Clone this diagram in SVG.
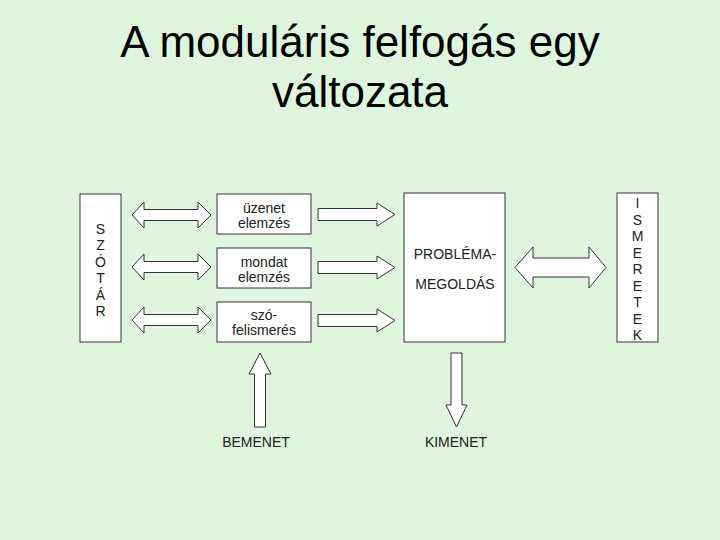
<svg xmlns="http://www.w3.org/2000/svg" width="720" height="540" viewBox="0 0 720 540">
<style>
.box{fill:#fff;stroke:#333;stroke-width:1}
.arr{fill:#fff;stroke:#333;stroke-width:1;stroke-linejoin:miter}
.t{font-family:"Liberation Sans",Arial,sans-serif;font-size:14px;fill:#222;text-anchor:middle}
.title{font-family:"Liberation Sans",Arial,sans-serif;font-size:44px;fill:#000;text-anchor:middle}
</style>
<rect width="720" height="540" fill="#ddf6dd"/>
<text class="title" x="360" y="57">A moduláris felfogás egy</text>
<text class="title" x="360" y="107">változata</text>

<g id="szotar">
<rect class="box" x="80" y="194" width="41" height="148"/>
<text class="t" x="100.5" y="234">S</text>
<text class="t" x="100.5" y="250">Z</text>
<text class="t" x="100.5" y="267">Ó</text>
<text class="t" x="100.5" y="283">T</text>
<text class="t" x="100.5" y="300">Á</text>
<text class="t" x="100.5" y="316">R</text>
</g>
<g id="uzenet">
<rect class="box" x="217" y="194" width="94" height="40"/>
<text class="t" x="264" y="213">üzenet</text>
<text class="t" x="264" y="228">elemzés</text>
</g>
<g id="mondat">
<rect class="box" x="217" y="248" width="94" height="40"/>
<text class="t" x="264" y="267">mondat</text>
<text class="t" x="264" y="282">elemzés</text>
</g>
<g id="szo">
<rect class="box" x="217" y="302" width="94" height="40"/>
<text class="t" x="264" y="320">szó-</text>
<text class="t" x="264" y="335">felismerés</text>
</g>
<g id="problema">
<rect class="box" x="404" y="193" width="101" height="149"/>
<text class="t" x="455" y="259">PROBLÉMA-</text>
<text class="t" x="455" y="289">MEGOLDÁS</text>
</g>
<g id="ismeretek">
<rect class="box" x="617" y="193" width="41" height="149"/>
<text class="t" x="637.5" y="208">I</text>
<text class="t" x="637.5" y="224.5">S</text>
<text class="t" x="637.5" y="241">M</text>
<text class="t" x="637.5" y="257.5">E</text>
<text class="t" x="637.5" y="274">R</text>
<text class="t" x="637.5" y="290.5">E</text>
<text class="t" x="637.5" y="307">T</text>
<text class="t" x="637.5" y="323.5">E</text>
<text class="t" x="637.5" y="340">K</text>
</g>
<g id="bemenet">
<text class="t" x="256" y="447">BEMENET</text>
</g>
<g id="kimenet">
<text class="t" x="456" y="447">KIMENET</text>
</g>

<g id="connectors">
<path class="arr" d="M132,215 L144,202 L144,209.5 L198,209.5 L198,202 L211,215 L198,228 L198,220.5 L144,220.5 L144,228 Z"/>
<path class="arr" d="M132,267 L144,254 L144,261.5 L198,261.5 L198,254 L211,267 L198,280 L198,272.5 L144,272.5 L144,280 Z"/>
<path class="arr" d="M132,320 L144,307 L144,314.5 L198,314.5 L198,307 L211,320 L198,333 L198,325.5 L144,325.5 L144,333 Z"/>
<path class="arr" d="M318,208.5 L377,208.5 L377,203 L395,214.5 L377,226 L377,220.5 L318,220.5 Z"/>
<path class="arr" d="M318,261.5 L377,261.5 L377,256 L395,267.5 L377,279 L377,273.5 L318,273.5 Z"/>
<path class="arr" d="M318,314.5 L377,314.5 L377,309 L395,320.5 L377,332 L377,326.5 L318,326.5 Z"/>
<path class="arr" d="M515,267.5 L533,247 L533,258 L589,258 L589,247 L606,267.5 L589,288 L589,277 L533,277 L533,288 Z"/>
<path class="arr" d="M260,353 L271,374 L265.5,374 L265.5,427 L254.5,427 L254.5,374 L249,374 Z"/>
<path class="arr" d="M451,353 L462,353 L462,405 L467,405 L456.5,427 L446,405 L451,405 Z"/>
</g>
</svg>
